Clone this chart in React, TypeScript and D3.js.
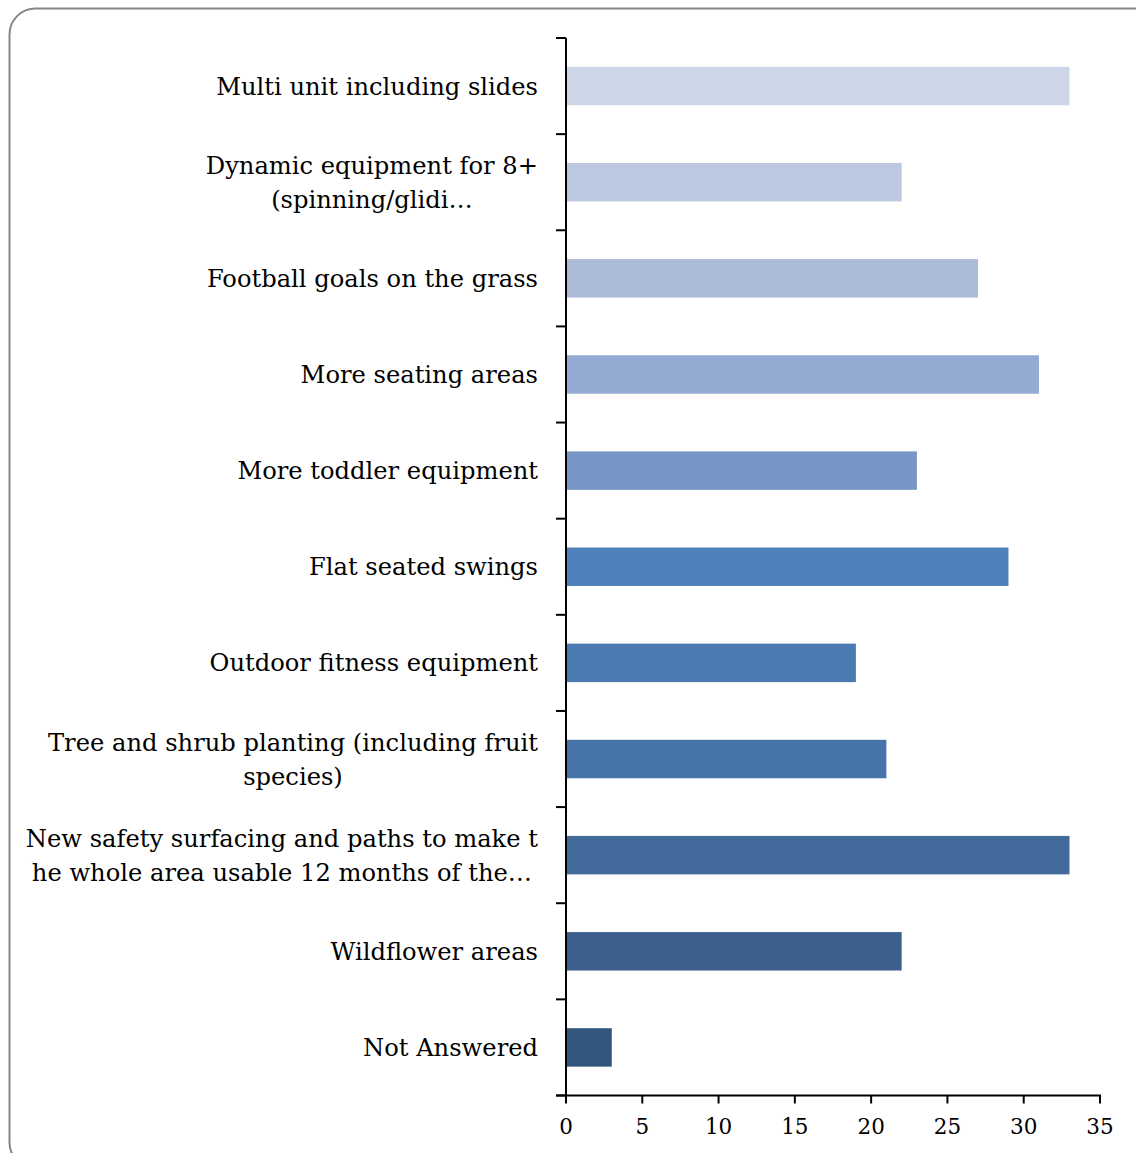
import React, { useEffect, useRef } from "react";
import * as d3 from "d3";

const categories: string[][] = [
  ["Multi unit including slides"],
  ["Dynamic equipment for 8+", "(spinning/glidi…"],
  ["Football goals on the grass"],
  ["More seating areas"],
  ["More toddler equipment"],
  ["Flat seated swings"],
  ["Outdoor fitness equipment"],
  ["Tree and shrub planting (including fruit", "species)"],
  ["New safety surfacing and paths to make t", "he whole area usable 12 months of the…"],
  ["Wildflower areas"],
  ["Not Answered"],
];
const values: number[] = [33, 22, 27, 31, 23, 29, 19, 21, 33, 22, 3];
const colors: string[] = [
  "#CDD7E8", "#BCC8E0", "#ABBBD8", "#95AAD2", "#7796C5", "#4F82BC",
  "#4A7AB1", "#4673A8", "#426B9C", "#3C5F8C", "#33567D",
];
const xTicks: number[] = [0, 5, 10, 15, 20, 25, 30, 35];

export default function App() {
  const ref = useRef<SVGSVGElement>(null);
  useEffect(() => {
    const svg = d3.select(ref.current);
    svg.selectAll("*").remove();
    const left = 566, right = 1100, top = 38, bottom = 1095.5;
    const font = "'DejaVu Serif', serif";

    svg.append("rect")
      .attr("x", 9.5).attr("y", 8.5)
      .attr("width", 1150).attr("height", 1160)
      .attr("rx", 26).attr("ry", 26)
      .attr("fill", "white").attr("stroke", "#878787").attr("stroke-width", 2);

    const x = d3.scaleLinear().domain([0, 35]).range([left, right]);
    const idx = categories.map((_, i) => String(i));
    const y = d3.scaleBand().domain(idx).range([top, bottom]).paddingInner(0.6).paddingOuter(0.3);
    const band = d3.scaleBand().domain(idx).range([top, bottom]);

    svg.append("g").selectAll("rect").data(values).join("rect")
      .attr("x", x(0))
      .attr("y", (_, i) => y(String(i))!)
      .attr("width", (d) => x(d) - x(0))
      .attr("height", y.bandwidth())
      .attr("fill", (_, i) => colors[i]);

    svg.append("line").attr("x1", left).attr("x2", left).attr("y1", top).attr("y2", bottom)
      .attr("stroke", "black").attr("stroke-width", 2);
    const bounds = idx.map((k) => band(k)!).concat([bottom]);
    svg.append("g").selectAll("line").data(bounds).join("line")
      .attr("x1", left - 10).attr("x2", left).attr("y1", (d) => d).attr("y2", (d) => d)
      .attr("stroke", "black").attr("stroke-width", 2);

    svg.append("line").attr("x1", left - 10).attr("x2", right + 1).attr("y1", bottom).attr("y2", bottom)
      .attr("stroke", "black").attr("stroke-width", 2);
    svg.append("g").selectAll("line").data(xTicks).join("line")
      .attr("x1", (d) => x(d)).attr("x2", (d) => x(d)).attr("y1", bottom).attr("y2", bottom + 8)
      .attr("stroke", "black").attr("stroke-width", 2);
    svg.append("g").selectAll("text").data(xTicks).join("text")
      .attr("x", (d) => x(d)).attr("y", bottom + 38)
      .attr("text-anchor", "middle").attr("font-family", font).attr("font-size", 21.5)
      .attr("fill", "black").text((d) => String(d));

    const labelRight = 538;
    categories.forEach((lines, i) => {
      const cy = band(String(i))! + band.bandwidth() / 2;
      const g = svg.append("g");
      const texts = lines.map((ln, j) =>
        g.append("text")
          .attr("y", cy + (j - (lines.length - 1) / 2) * 34 + 8.5)
          .attr("font-family", font).attr("font-size", 24.2)
          .attr("fill", "black").text(ln)
      );
      const widths = texts.map((t) => (t.node() as SVGTextElement).getComputedTextLength());
      const maxW = Math.max(...widths);
      texts.forEach((t) => {
        if (lines.length === 1) {
          t.attr("x", labelRight).attr("text-anchor", "end");
        } else {
          t.attr("x", labelRight - maxW / 2).attr("text-anchor", "middle");
        }
      });
    });
  }, []);
  return (
    <svg ref={ref} width={1136} height={1153} style={{ display: "block", position: "absolute", left: 0, top: 0 }} />
  );
}
